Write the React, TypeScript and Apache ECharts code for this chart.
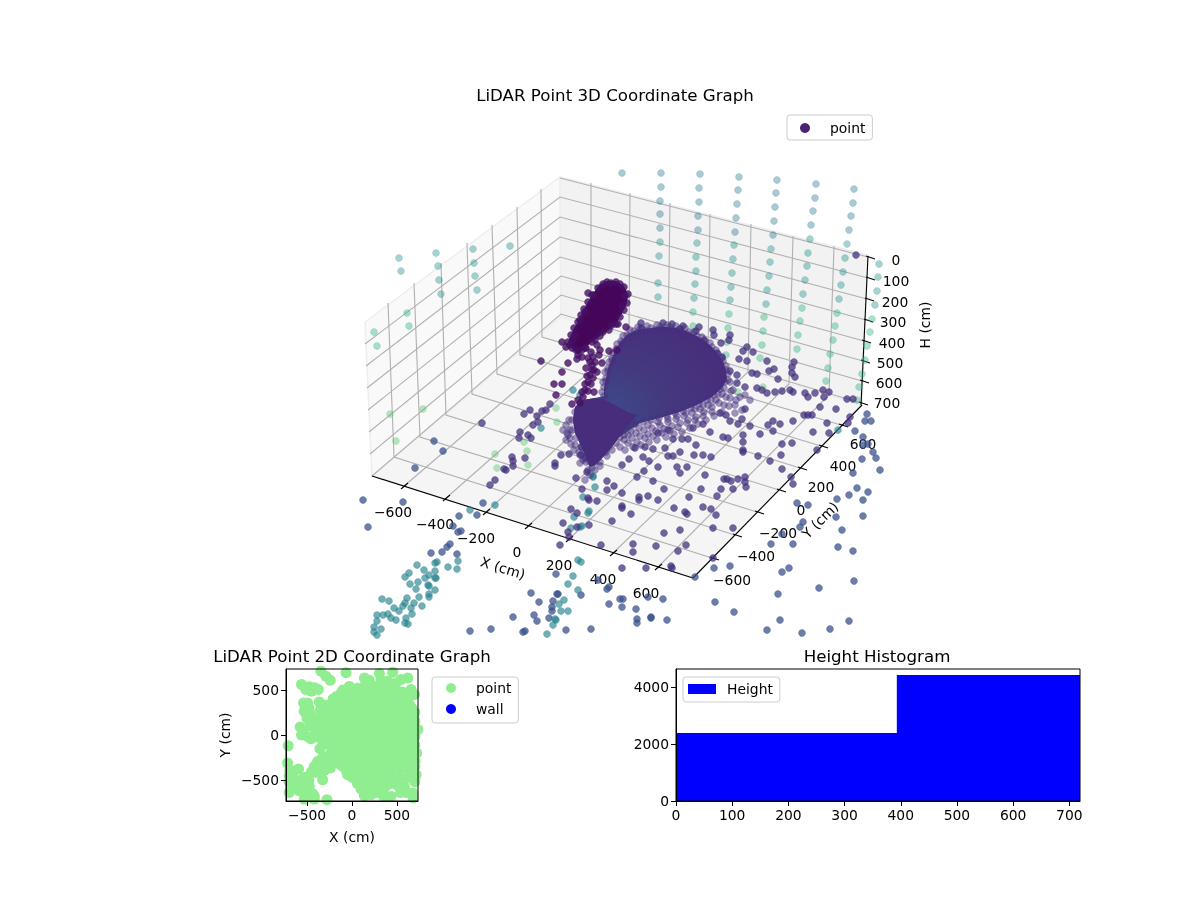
import React, { useEffect, useRef } from 'react';
import * as echarts from 'echarts';

const FONT = '"DejaVu Sans", sans-serif';

// 3D panel: points, on a hidden axis pair in picture units
const wallTop = [[622,173],[661,173],[661,187],[660,201],[660,214],[660,228],[700,174],[699,188],[699,202],[698,216],[698,230],[739,177],[738,190],[737,204],[736,218],[735,232],[777,180],[776,193],[775,207],[774,221],[773,235],[816,184],[815,198],[813,211],[811,225],[854,189],[853,203],[851,216],[849,230]];
const wallMid = [[660,242],[659,256],[658,283],[658,297],[697,243],[696,257],[696,271],[695,284],[694,298],[734,245],[733,259],[732,273],[731,287],[730,300],[771,249],[770,262],[769,276],[767,290],[766,304],[810,239],[808,253],[807,266],[805,280],[803,294],[847,244],[845,258],[843,272],[841,285],[839,299],[879,264],[878,277],[877,291],[875,305],[399,258],[401,271],[436,253],[438,266],[439,280],[441,294],[473,249],[474,263],[475,276],[477,290],[510,246]];
const wallLow = [[693,312],[693,326],[729,314],[728,328],[727,342],[726,355],[764,317],[763,331],[762,345],[760,358],[802,308],[800,321],[798,335],[797,349],[837,313],[835,326],[833,340],[830,354],[828,368],[826,381],[872,319],[870,332],[867,346],[865,360],[862,374],[859,387],[857,400],[407,313],[409,326],[374,332],[377,346]];
const wallGreen = [[390,414],[423,409],[396,441],[495,454],[497,468],[527,451],[528,465],[556,408],[557,422],[524,442],[738,392],[763,387]];
const tealFloor = [[541,428],[593,476],[595,487],[583,497],[574,517],[588,513],[589,511],[580,527],[582,526],[571,528],[838,430],[573,390],[580,395],[593,477]];
const floorPts = [[482,423],[524,414],[530,410],[537,416],[542,411],[546,410],[550,404],[533,425],[538,422],[520,432],[519,438],[528,435],[531,438],[512,457],[513,461],[504,469],[506,470],[513,466],[525,458],[495,480],[490,485],[555,463],[555,466],[561,455],[569,454],[581,447],[581,455],[585,458],[576,478],[587,472],[607,481],[614,486],[607,490],[582,489],[588,498],[589,500],[597,501],[571,509],[577,513],[577,527],[563,523],[568,532],[589,525],[569,537],[560,545],[601,545],[612,521],
  [720,413],[726,415],[730,421],[738,424],[745,409],[742,419],[710,432],[703,424],[693,428],[668,430],[658,433],[673,439],[682,439],[688,439],[696,445],[653,449],[645,447],[635,448],[665,448],[680,452],[668,456],[673,456],[694,455],[703,455],[711,457],[643,457],[649,461],[629,459],[677,467],[658,467],[687,467],[680,473],[644,471],[622,465],[705,475],[637,477],[653,481],[724,479],[727,479],[738,479],[745,477],[731,481],[745,482],[746,487],[733,489],[721,489],[701,489],[664,489],[717,496],[689,497],[648,496],[639,497],[639,500],[658,500],[622,493],[622,506],[622,508],[631,514],[674,508],[685,512],[687,514],[703,507],[711,509],[716,515],[664,533],[680,530],[713,528],[733,528],[633,544],[633,552],[656,546],[686,545],[678,551],[713,558],[622,568],[646,568],[671,566],[672,568],
  [760,434],[743,435],[743,442],[743,450],[743,452],[758,456],[770,461],[782,444],[792,443],[781,455],[782,469],[791,477],[793,484],[768,425],[773,421],[780,424],[793,421],[773,431],[750,426],[723,437],[728,438],[817,450],[813,432],[829,433],[804,415],[808,415],[812,415],[827,423],[820,407],[836,409],[850,417],[848,423],
  [641,323],[641,328],[663,323],[661,329],[672,324],[683,326],[680,329],[677,332],[699,327],[696,331],[713,330],[714,335],[730,335],[729,340],[704,340],[721,343],[717,353],[722,357],[747,347],[743,351],[753,352],[739,359],[747,361],[767,361],[794,362],[792,367],[774,369],[769,371],[792,373],[752,373],[757,374],[778,379],[795,377],[737,375],[730,371],[737,383],[745,387],[757,388],[762,390],[767,393],[775,392],[782,391],[790,390],[793,392],[805,393],[815,393],[823,390],[829,392],[808,397],[824,397],[847,399],[853,399],[856,255]];
const outerBlue = [[434,441],[443,451],[415,468],[483,503],[477,515],[459,516],[363,500],[403,502],[368,527],[453,526],[458,532],[461,531],[450,544],[447,547],[431,553],[442,552],[457,554],[531,593],[558,594],[557,594],[539,602],[553,601],[552,607],[552,611],[534,615],[513,617],[549,618],[537,621],[525,631],[523,632],[470,631],[491,629],[566,630],[591,629],[556,574],[581,595],[609,587],[607,589],[609,604],[598,580],[620,599],
  [867,414],[865,421],[871,421],[855,431],[863,437],[863,445],[868,444],[873,452],[862,459],[876,458],[880,470],[853,473],[857,488],[868,492],[849,495],[837,499],[863,500],[836,517],[863,516],[842,530],[838,547],[853,551],[797,503],[808,505],[803,522],[800,527],[782,534],[793,544],[771,544],[730,566],[789,568],[782,572],[778,594],[819,588],[854,581],[715,602],[734,612],[780,620],[849,621],[767,630],[802,633],[830,629],[663,599],[648,597],[623,599],[622,607],[636,609],[637,619],[637,623],[651,617],[651,618],[667,620],[714,568],[695,577]];
const tealCluster = [[495,505],[470,510],[458,561],[448,567],[457,569],[437,562],[435,563],[417,565],[424,570],[409,573],[405,577],[435,571],[429,575],[425,578],[435,578],[436,578],[410,584],[418,582],[428,585],[429,586],[416,589],[435,590],[429,594],[429,597],[419,597],[407,598],[382,599],[389,601],[414,603],[422,606],[405,603],[403,606],[394,608],[411,608],[399,611],[412,614],[383,615],[388,614],[377,615],[391,618],[396,620],[406,618],[377,621],[405,623],[408,624],[374,627],[381,629],[374,632],[377,635],[564,600],[559,604],[568,611],[561,611],[555,619],[556,620],[553,625],[547,634],[578,560],[581,562],[573,576],[568,584],[578,590]];
const towerPts = [[588,293],[562,342],[568,363],[577,359],[582,357],[618,324],[626,327],[541,361],[562,372],[554,384],[562,384],[609,351],[617,350],[600,350],[593,357],[602,363],[592,365],[592,370],[590,375],[588,382],[585,390],[583,397],[580,403],[580,320],[585,312],[594,295],[603,284],[611,283],[620,284],[625,296],[622,306],[612,325],[603,332],[595,340],[582,350],[573,340],[570,345],[576,350],[586,348],[556,395],
  [598,288],[607,282],[616,282],[624,287],[628,294],[627,303],[624,310],[620,317],[616,324],[609,330],[600,336],[592,342],[585,348],[578,355],[572,348],[568,342],[571,335],[574,328],[578,322],[581,315],[584,309],[588,302],[592,295],[575,335],[566,347],
  [597,345],[591,352],[588,358],[595,362],[599,355],[590,362],[594,370],[586,368],[597,372],[593,378],[587,376],[585,384],[591,384],[588,391],[582,392],[594,392],[578,400],[572,404]];
const fanRing = [[620,447],[628,443],[637,442],[645,438],[653,436],[662,433],[670,431],[678,427],[687,423],[695,420],[703,416],[712,412],[620,437],[628,435],[636,433],[644,430],[652,428],[660,425],[668,422],[676,419],[684,416],[692,413],[700,409],[708,405],[716,400],[722,394],[627,426],[635,424],[643,422],[651,420],[659,418],[667,416],[675,413],[683,411],[691,408],[699,404],[707,400],[714,395],[720,389],[725,382],[728,374],[726,366],[722,358],[716,350],[710,343],[702,337],[694,332],[685,328],[676,326],[667,325],[657,325],[647,326],[638,327],[630,330],[623,336],[617,344],[613,353],[609,362],[605,372],[603,382],[602,392],[722,372],[719,365],[714,357],[708,350],[700,343],[692,338],[683,334],[674,331],[665,330],[655,330],[646,331],[637,333],[629,337],[622,343],[617,352],[612,361],[608,371],[606,381],[730,382],[733,390],[730,398],[724,405],[735,405],[740,397],[745,395],[750,400],[742,410],[735,413],[575,412],[572,420],[572,430],[576,438],[570,438],[567,433],[570,430],[568,435],[582,447],[585,453],[583,460],[592,468],[595,462],[588,470],[580,455],[598,458],[606,452],[590,475],[585,480],
  [604,396],[604,387],[606,378],[608,368],[612,358],[616,349],[621,341],[627,335],[634,331],[642,329],[651,328],[660,327],[670,327],[680,329],[689,332],[697,336],[705,341],[712,347],[718,354],[723,361],[726,370],[728,380],[724,388],[718,394],[711,400],[703,405],[695,409],[686,413],[677,416],[668,419],[658,422],[648,425],[639,428],[631,431],[624,435],
  [624,440],[632,438],[640,436],[648,434],[656,431],[664,429],[672,426],[680,423],[688,420],[696,417],[704,412],[712,407],[719,403],[726,397],[731,391],[616,443],[612,450],[607,456],[600,462],[625,450],[633,447],[641,445],[649,442],[657,440],[666,437],[674,434],[682,432],[690,428],[698,424],[706,420],[714,416],[722,412],[729,406],[736,400],
  [566,425],[569,420],[563,430],[571,444],[566,440],[575,445],[579,452],[574,450],[586,462],[590,462],[595,470],[600,466],[580,463]];

// outlines of the solid-looking clumps
const towerOutline = [[600,284],[607,281],[616,281],[624,286],[628,294],[627,303],[624,310],[620,317],[616,324],[609,330],[600,336],[592,342],[585,348],[578,355],[572,348],[568,342],[571,335],[574,328],[578,322],[581,315],[584,309],[588,302],[592,295]];
const fanOutline = [[604,396],[604,387],[606,378],[608,368],[612,358],[616,349],[621,341],[627,335],[634,331],[642,329],[651,328],[660,327],[670,327],[680,329],[689,332],[697,336],[705,341],[712,347],[718,354],[723,361],[726,370],[727,380],[722,388],[712,397],[697,405],[680,412],[660,418],[640,423],[627,432],[618,438],[612,447],[603,457],[595,465],[590,467],[587,460],[582,448],[575,433],[573,420],[575,407],[583,400],[595,398]];
const seatOutline = [[575,407],[583,400],[595,398],[605,400],[628,412],[637,415],[620,436],[612,447],[603,457],[595,465],[590,467],[587,460],[582,448],[575,433],[573,420]];

// 3D box, picture positions
const leftWall = [[365,322],[560,177],[561,317],[372,476]];
const backWall = [[560,177],[868,255],[862,405],[561,317]];
const floorPane = [[372,476],[561,317],[862,405],[693,578]];
const xTickFront = [[403,487],[445,499],[485,513],[527,527],[568,540],[612,554],[657,568]];
const xTickBack = [[591,326],[629,337],[668,348],[708,360],[748,372],[789,384],[829,395]];
const xTickTop = [[591,183],[630,193],[670,203],[710,214],[751,224],[793,236],[834,246]];
const yTickFront = [[712,558],[735,535],[757,512],[779,490],[800,468],[821,446],[841,425]];
const yTickBack = [[394,457],[420,437],[446,415],[472,394],[497,374],[520,355],[542,337]];
const yTickTop = [[388,303],[414,283],[441,263],[467,243],[492,225],[517,207],[541,189]];
const zTickLeft = [[365,344],[366,366],[367,388],[368,410],[369,432],[370,454],[372,476]];
const zTickCorner = [[560,197],[560,217],[560,237],[560,257],[561,276],[561,295],[561,314]];
const zTickRight = [[868,278],[867,299],[866,320],[864,341],[863,361],[862,381],[861,403]];
const zTickTop = [[560,178],[868,257]];

const xLabels3d = ['\u2212600', '\u2212400', '\u2212200', '0', '200', '400', '600'];
const xLabelPos = [[393,512],[435,524],[476,538],[517,552],[559,565],[603,579],[646,593]];
const yLabels3d = ['\u2212600', '\u2212400', '\u2212200', '0', '200', '400', '600'];
const yLabelPos = [[732,580],[756,556],[778,533],[801,510],[821,487],[843,466],[863,444]];
const zLabels3d = ['0', '100', '200', '300', '400', '500', '600', '700'];
const zLabelPos = [[896,260],[896,281],[895,302],[893,322],[892,343],[890,363],[889,383],[887,403]];

// 2D panel, values in cm
const points2d = [[-562,562],[-476,536],[-420,525],[-376,506],[-513,506],[-450,487],[-539,357],[-495,357],[-365,368],[-532,264],[-465,245],[-502,190],[-439,171],[-450,104],[-577,89],[-402,52],[-562,0],[-458,-41],[-365,22],[-737,171],[-711,-119],[-357,-153],[-718,-312],[-595,-379],[-692,-394],[-450,-409],[-409,-417],[-327,-498],[-309,-394],[-242,-368],[-383,-294],[-327,-257],[-264,-238],[-179,-275],[-234,-201],[-662,-461],[-551,-491],[-606,-536],[-476,-573],[-532,-591],[-699,-640],[-439,-655],[-532,-714],[-279,-722],[-420,-714],
  [-346,711],[-290,655],[-242,610],[-67,692],[138,636],[193,610],[305,684],[454,699],[603,748],[324,610],[398,599],[547,618],[621,636],[491,580],[658,506],[696,450],[603,431],[666,301],[565,320],[677,-33],[696,134],[733,60],[677,-164],[703,-294],[714,-443],[584,-573],[677,-647],[435,-684],[138,-677],[212,-666],[361,-591],[-48,-443],[82,-517],
  [-100,500],[0,500],[100,500],[200,500],[300,500],[420,500],
  [-170,430],[-70,430],[30,430],[130,430],[230,430],[330,430],[430,430],[530,430],
  [-250,340],[-160,340],[-70,340],[20,340],[110,340],[200,340],[290,340],[380,340],[470,340],[560,340],
  [-320,250],[-230,250],[-140,250],[-50,250],[40,250],[130,250],[220,250],[310,250],[400,250],[490,250],[580,250],
  [-340,160],[-250,160],[-160,160],[-70,160],[20,160],[110,160],[200,160],[290,160],[380,160],[470,160],[560,160],[630,160],
  [-320,70],[-230,70],[-140,70],[-50,70],[40,70],[130,70],[220,70],[310,70],[400,70],[490,70],[580,70],
  [-260,-20],[-170,-20],[-80,-20],[10,-20],[100,-20],[190,-20],[280,-20],[370,-20],[460,-20],[550,-20],
  [-240,-110],[-150,-110],[-60,-110],[30,-110],[120,-110],[210,-110],[300,-110],[390,-110],[480,-110],[570,-110],
  [-150,-200],[-60,-200],[30,-200],[120,-200],[210,-200],[300,-200],[390,-200],[480,-200],[570,-200],[650,-200],
  [-70,-290],[20,-290],[110,-290],[200,-290],[290,-290],[380,-290],[470,-290],[560,-290],[640,-290],
  [0,-380],[90,-380],[180,-380],[270,-380],[360,-380],[450,-380],[540,-380],[630,-380],
  [90,-470],[180,-470],[270,-470],[360,-470],[450,-470],[540,-470],[640,-470],
  [130,-550],[220,-550],[310,-550],[400,-550],[490,-550],
  [640,340],[700,250],[640,250],[700,160],[640,70],[700,-20],[620,-20],[640,-110],[700,-110],[720,-200],[700,-350],[640,-460],[700,-520],[600,-640],[680,-700],[540,-640],[350,-680],[280,-640],[200,-620],[100,-600],[60,-540],[0,-470],[-60,-400],[-130,-330],[-210,-300],[-100,-350],[-170,-240],[-290,-100],[-330,-60],[-340,30],[-350,100],[-360,200],[-350,280],[-300,330],[-210,400],[-120,470],[-30,540],[60,520],[150,560],[250,540],[350,530],[480,510],[560,480],[620,390],[560,410],[650,440],
  [-520,310],[-480,300],[-470,150],[-430,90],[-540,60],[-490,-20],[-400,-20],[-340,-330],[-290,-290],[-420,-350],[-370,-410],[-640,-580],[-590,-620],[-470,-640],[-420,-680],[-700,-520],[-650,-400],[-700,-450],[-520,-470],[-480,-510]];
const wall2d: number[][] = [];
const ticks2d = [-500, 0, 500];

// histogram
const histEdges = [0, 393, 719];
const histCounts = [2386, 4421];
const histXTicks = [0, 100, 200, 300, 400, 500, 600, 700];
const histYTicks = [0, 2000, 4000];

const txt = (text: string, x: number, y: number, fontSize = 13.89, rotation = 0) => ({
  type: 'text', x, y, rotation, silent: true,
  style: { text, fontSize, fontFamily: FONT, fill: '#000', textAlign: 'center', textVerticalAlign: 'middle', align: 'center', verticalAlign: 'middle' },
});

const dots = (data: number[][], r: number, g: number, b: number, alpha: number, z = 3) => ({
  type: 'scatter', name: 'point', data, xAxisIndex: 0, yAxisIndex: 0, symbolSize: 7, clip: true, silent: true, z,
  itemStyle: { color: `rgba(${r},${g},${b},${alpha})`, borderColor: `rgba(${r},${g},${b},${alpha * 0.6})`, borderWidth: 0.8, opacity: 1 },
});

const blob = (outline: number[][], fill: any, z: number) => ({
  type: 'custom', xAxisIndex: 0, yAxisIndex: 0, silent: true, z, clip: true, data: [[0, 0]],
  renderItem: (_: any, api: any) => ({
    type: 'polygon',
    shape: { points: outline.map((p) => api.coord(p)) },
    style: { fill },
  }),
});

const axisText = { color: '#000', fontSize: 13.89, fontFamily: FONT };
const titleText = { fontSize: 16.67, fontWeight: 'normal', color: '#000', fontFamily: FONT };
const minusFmt = (v: number) => String(v).replace('-', '\u2212');

const cartesian = (gridIndex: number, min: number, max: number, ticks: number[], name: string, isY: boolean) => ({
  type: 'value', gridIndex, min, max, z: 6,
  name, nameLocation: 'middle', nameGap: isY ? 54 : 29, nameTextStyle: axisText,
  splitLine: { show: false },
  axisLine: { show: true, onZero: false, lineStyle: { color: '#000', width: 1 } },
  axisTick: { show: true, length: 5, customValues: ticks, lineStyle: { color: '#000', width: 1 } },
  axisLabel: { ...axisText, margin: 7, customValues: ticks, formatter: minusFmt },
});

const legendBase = {
  orient: 'vertical', selectedMode: false, itemWidth: 28, itemHeight: 10, itemGap: 7,
  backgroundColor: 'rgba(255,255,255,0.8)', borderColor: '#ccc', borderWidth: 1, borderRadius: 3,
  textStyle: { ...axisText, padding: [0, 0, 0, 6] },
};
const legendIcon = (name: string, icon: string, color: string) => ({
  name, icon, itemStyle: { color, borderWidth: 0, opacity: 1 },
});

const App: React.FC = () => {
  const chartRef = useRef<HTMLDivElement>(null);

  useEffect(() => {
    if (!chartRef.current) return;
    const chart = echarts.init(chartRef.current, undefined, { renderer: 'svg' });

    const panes = [
      { points: leftWall, fill: '#f9f9f9' },
      { points: backWall, fill: '#f2f2f2' },
      { points: floorPane, fill: '#f5f5f5' },
    ];
    const gridLines = [
      ...xTickFront.map((p, i) => [p, xTickBack[i], xTickTop[i]]),
      ...yTickFront.map((p, i) => [p, yTickBack[i], yTickTop[i]]),
      ...zTickRight.map((p, i) => [p, zTickCorner[i], zTickLeft[i]]),
      zTickTop,
    ];
    const tickMarks = [
      ...xTickFront.map((p) => [[p[0] - 2, p[1] + 2], [p[0] + 5, p[1] - 4]]),
      ...yTickFront.map((p) => [[p[0] - 2, p[1] - 1], [p[0] + 7, p[1] + 2]]),
      ...[[868,257], ...zTickRight].map((p) => [[p[0] - 2, p[1] - 1], [p[0] + 7, p[1] + 2]]),
    ];
    const axisLines = [
      [[372,476],[693,578]],
      [[693,578],[862,405]],
      [[868,256],[861,405]],
    ];

    chart.setOption({
      animation: false,
      title: [
        { text: 'LiDAR Point 3D Coordinate Graph', left: 615, top: 87, textAlign: 'center', padding: 0, textStyle: titleText },
        { text: 'LiDAR Point 2D Coordinate Graph', left: 352, top: 648, textAlign: 'center', padding: 0, textStyle: titleText },
        { text: 'Height Histogram', left: 877, top: 648, textAlign: 'center', padding: 0, textStyle: titleText },
      ],
      legend: [
        { ...legendBase, z: 8, left: 787, top: 115, padding: [6, 7, 5, 13], data: [legendIcon('point', 'circle', '#482273')] },
        { ...legendBase, z: 8, left: 432, top: 677, padding: [4, 7, 7, 14], data: [legendIcon('point', 'circle', '#90ee90'), legendIcon('wall', 'circle', '#0000ff')] },
        { ...legendBase, z: 8, left: 683, top: 677, padding: [5, 7, 6, 5], data: [legendIcon('Height', 'rect', '#0000ff')] },
      ],
      grid: [
        { left: 355, top: 100, width: 527, height: 536 },
        { left: 286, top: 669, width: 132, height: 132, show: true, z: 5, borderColor: '#000', borderWidth: 1, backgroundColor: 'transparent' },
        { left: 676, top: 669, width: 404, height: 132, show: true, z: 5, borderColor: '#000', borderWidth: 1, backgroundColor: 'transparent' },
      ],
      xAxis: [
        { type: 'value', gridIndex: 0, min: 355, max: 882, show: false },
        cartesian(1, -735, 735, ticks2d, 'X (cm)', false),
        cartesian(2, 0, 719, histXTicks, '', false),
      ],
      yAxis: [
        { type: 'value', gridIndex: 0, min: 100, max: 636, inverse: true, show: false },
        cartesian(1, -735, 735, ticks2d, 'Y (cm)', true),
        cartesian(2, 0, 4632, histYTicks, '', true),
      ],
      graphic: {
        elements: [
          ...xLabels3d.map((t, i) => txt(t, xLabelPos[i][0], xLabelPos[i][1])),
          ...yLabels3d.map((t, i) => txt(t, yLabelPos[i][0], yLabelPos[i][1])),
          ...zLabels3d.map((t, i) => txt(t, zLabelPos[i][0], zLabelPos[i][1])),
          txt('X (cm)', 503, 568, 13.89, -17 * Math.PI / 180),
          txt('Y (cm)', 820, 520, 13.89, 45 * Math.PI / 180),
          txt('H (cm)', 925, 325, 13.89, Math.PI / 2),
        ],
      },
      series: [
        {
          type: 'custom', name: 'panes', xAxisIndex: 0, yAxisIndex: 0, silent: true, z: 1,
          data: panes.map((_, i) => [i, i]),
          renderItem: (params: any, api: any) => ({
            type: 'polygon',
            shape: { points: panes[params.dataIndex].points.map((p) => api.coord(p)) },
            style: { fill: panes[params.dataIndex].fill, stroke: '#eeeeee', lineWidth: 1.5 },
          }),
        },
        {
          type: 'custom', name: 'gridlines', xAxisIndex: 0, yAxisIndex: 0, silent: true, z: 1,
          data: gridLines.map((_, i) => [i, i]),
          renderItem: (params: any, api: any) => ({
            type: 'polyline',
            shape: { points: gridLines[params.dataIndex].map((p) => api.coord(p)) },
            style: { fill: 'none', stroke: '#b0b0b0', lineWidth: 1.1 },
          }),
        },
        {
          type: 'custom', name: 'axes3d', xAxisIndex: 0, yAxisIndex: 0, silent: true, z: 2,
          data: [...axisLines, ...tickMarks].map((_, i) => [i, i]),
          renderItem: (params: any, api: any) => ({
            type: 'polyline',
            shape: { points: [...axisLines, ...tickMarks][params.dataIndex].map((p) => api.coord(p)) },
            style: { fill: 'none', stroke: '#000', lineWidth: 1.1 },
          }),
        },
        dots(wallTop, 42, 120, 142, 0.4),
        dots(wallMid, 33, 145, 140, 0.4),
        dots(wallLow, 44, 177, 126, 0.4),
        dots(wallGreen, 80, 196, 106, 0.4),
        dots(tealFloor, 38, 130, 142, 0.65),
        dots(outerBlue, 59, 82, 139, 0.75),
        dots(tealCluster, 38, 130, 142, 0.65),
        dots(floorPts, 68, 50, 125, 0.75),
        blob(fanOutline, new echarts.graphic.RadialGradient(0.25, 0.6, 0.75, [
          { offset: 0, color: '#3c4a88' },
          { offset: 0.45, color: '#44397f' },
          { offset: 1, color: '#482e7c' },
        ]), 4),
        blob(seatOutline, '#472d7b', 4),
        dots(fanRing, 70, 48, 126, 0.5, 5),
        blob(towerOutline, '#45065a', 6),
        dots(towerPts, 69, 16, 100, 0.8, 7),
        {
          type: 'scatter', name: 'point', data: points2d, xAxisIndex: 1, yAxisIndex: 1, symbolSize: 11, clip: true, silent: true,
          itemStyle: { color: '#90ee90', opacity: 1 },
        },
        { type: 'scatter', name: 'wall', data: wall2d, xAxisIndex: 1, yAxisIndex: 1, symbolSize: 11, itemStyle: { color: '#0000ff' } },
        {
          type: 'custom', name: 'Height', xAxisIndex: 2, yAxisIndex: 2, silent: true, clip: true,
          data: histCounts.map((c, i) => [histEdges[i], histEdges[i + 1], c]),
          encode: { x: [0, 1], y: 2 },
          renderItem: (_: any, api: any) => {
            const a = api.coord([api.value(0), api.value(2)]);
            const b = api.coord([api.value(1), 0]);
            return { type: 'rect', shape: { x: a[0], y: a[1], width: b[0] - a[0] + 0.5, height: b[1] - a[1] }, style: { fill: '#0000ff' } };
          },
        },
      ],
    } as any);

    return () => chart.dispose();
  }, []);

  return <div ref={chartRef} style={{ position: 'fixed', left: 0, top: 0, width: 1200, height: 900 }} />;
};

export default App;
